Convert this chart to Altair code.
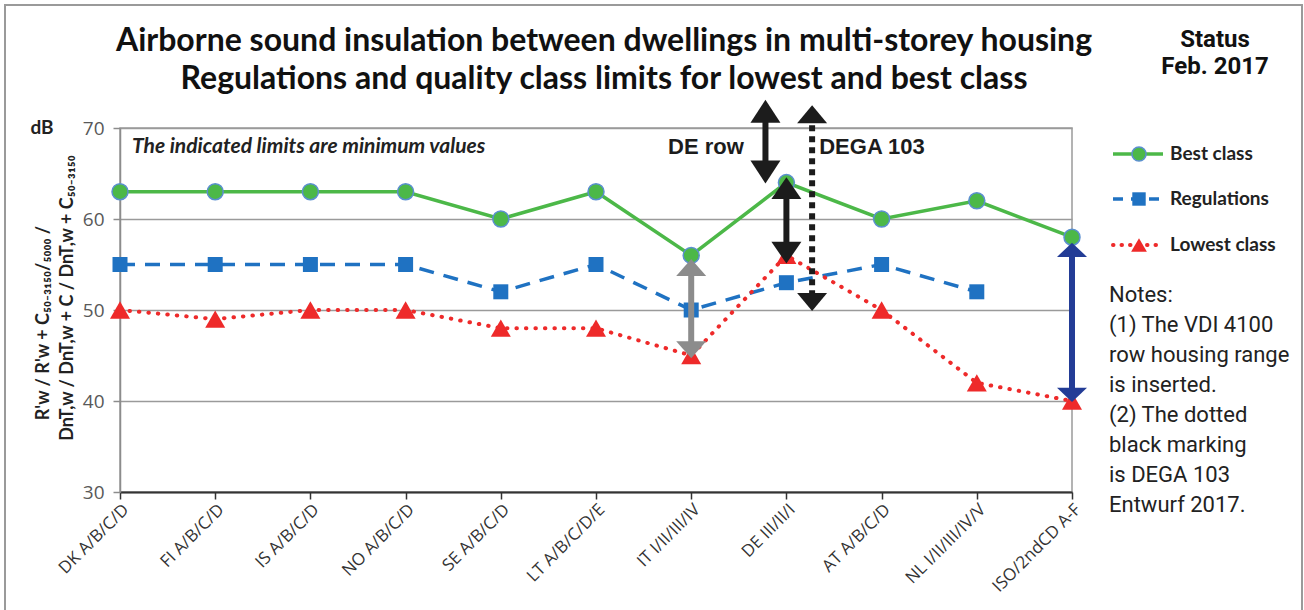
import json
import altair as alt
import pandas as pd

# ---------------- data ----------------
categories = ["DK  A/B/C/D", "FI  A/B/C/D", "IS  A/B/C/D", "NO  A/B/C/D", "SE  A/B/C/D",
              "LT  A/B/C/D/E", "IT  I/II/III/IV", "DE  III/II/I", "AT  A/B/C/D",
              "NL  I/II/III/IV/V", "ISO/2ndCD A-F"]
best_class = [63, 63, 63, 63, 60, 63, 56, 64, 60, 62, 58]
regulations = [55, 55, 55, 55, 52, 55, 50, 53, 55, 52, None]
lowest_class = [50, 49, 50, 50, 48, 48, 45, 56, 50, 42, 40]
y_ticks = [30, 40, 50, 60, 70]

# range arrows (category position, top tip value, bottom tip value)
arrow_pos = [6, 6.78, 7, 10]
arrow_top = [55.6, 73.1, 64.6, 57.4]
arrow_bottom = [44.7, 63.9, 55.1, 39.9]
arrow_color = ["#8c8c8c", "#1c1c1c", "#1c1c1c", "#233c96"]
arrow_head = [1.13, 1.53, 1.45, 0.95]
dotted_pos = [7.27]
dotted_top = [72.5]
dotted_bottom = [49.9]

title_lines = ["Airborne sound insulation between dwellings in multi-storey housing",
               "Regulations and quality class limits for lowest and best class"]
status_lines = ["Status", "Feb. 2017"]
notes_lines = ["Notes:", "(1) The VDI 4100", "row housing range", "is inserted.",
               "(2) The dotted", "black marking", "is DEGA 103", "Entwurf 2017."]
y_title_lines = ["R'w / R'w + C₅₀₋₃₁₅₀/₅₀₀₀ /", "DnT,w / DnT,w + C / DnT,w + C₅₀₋₃₁₅₀"]

# ---------------- layout ----------------
W, H = 952, 364
PL, PT = 120, 128


def px(x):
    return x - PL


def py(y):
    return y - PT


label_expr = json.dumps(categories) + "[datum.value]"

X = alt.X("i:Q", scale=alt.Scale(domain=[0, 10], nice=False, zero=False),
          axis=alt.Axis(values=list(range(11)), labelExpr=label_expr, labelAngle=315,
                        labelAlign="right", labelBaseline="top", labelFontSize=17,
                        labelFont="Open Sans", labelColor="#333333", labelPadding=2,
                        labelOverlap=False, labelBound=False, labelFlush=False,
                        tickSize=7, tickColor="#333333", tickWidth=1.5,
                        domainColor="#333333", domainWidth=2, grid=False, title=None))
Y = alt.Y("v:Q", scale=alt.Scale(domain=[30, 70], nice=False, zero=False),
          axis=alt.Axis(values=y_ticks, labelFontSize=19, labelFont="Open Sans",
                        labelColor="#595959", labelPadding=9, tickSize=7,
                        tickColor="#8c8c8c", tickWidth=1.5, domainColor="#8c8c8c",
                        domainWidth=1.5, grid=True, gridColor="#9a9a9a", gridWidth=1.5,
                        title=None))


def series_df(vals):
    return pd.DataFrame([{"i": k, "v": v} for k, v in enumerate(vals) if v is not None])


layers = []

# series
green, blue, red = "#4cb848", "#1f72c2", "#ee2a2a"
g = alt.Chart(series_df(best_class))
layers.append(g.mark_line(color=green, strokeWidth=3.5).encode(x=X, y=Y))
b = alt.Chart(series_df(regulations))
layers.append(b.mark_line(color=blue, strokeWidth=3.5, strokeDash=[15, 10]).encode(x=X, y=Y))
r = alt.Chart(series_df(lowest_class))
layers.append(r.mark_line(color=red, strokeWidth=4, strokeDash=[0.5, 9], strokeCap="round").encode(x=X, y=Y))
layers.append(g.mark_point(shape="circle", filled=True, fill=green, stroke="#5b8fd0",
                           strokeWidth=1.5, size=256, opacity=1).encode(x=X, y=Y))
layers.append(b.mark_point(shape="square", filled=True, fill=blue, size=225, opacity=1).encode(x=X, y=Y))
layers.append(r.mark_point(shape="triangle-up", filled=True, fill=red, size=400, opacity=1).encode(x=X, y=Y))

# arrows
arr = pd.DataFrame({"i": arrow_pos, "v": arrow_top, "v2": arrow_bottom, "c": arrow_color})
ac = alt.Chart(arr)
layers.append(ac.mark_rule(strokeWidth=6, yOffset=9, y2Offset=-9).encode(
    x=X, y=Y, y2="v2:Q", color=alt.Color("c:N", scale=None)))
up_heads = pd.DataFrame({"i": arrow_pos, "v": arrow_top, "c": arrow_color,
                         "s": [f"M0,0L1,{h}L-1,{h}Z" for h in arrow_head]})
down_heads = pd.DataFrame({"i": arrow_pos, "v": arrow_bottom, "c": arrow_color,
                           "s": [f"M0,0L1,-{h}L-1,-{h}Z" for h in arrow_head]})
for hd in (up_heads, down_heads):
    layers.append(alt.Chart(hd).mark_point(filled=True, opacity=1).encode(
        x=X, y=Y, color=alt.Color("c:N", scale=None), shape=alt.Shape("s:N", scale=None),
        size=alt.value(900)))

dot = pd.DataFrame({"i": dotted_pos, "v": dotted_top, "v2": dotted_bottom})
layers.append(alt.Chart(dot).mark_rule(strokeWidth=6, color="#1c1c1c", strokeDash=[6, 5],
                                       yOffset=9, y2Offset=-9).encode(x=X, y=Y, y2="v2:Q"))
layers.append(alt.Chart(pd.DataFrame({"i": dotted_pos, "v": dotted_top})).mark_point(
    filled=True, opacity=1, color="#1c1c1c", shape="M0,0L1,1.2L-1,1.2Z", size=900).encode(x=X, y=Y))
layers.append(alt.Chart(pd.DataFrame({"i": dotted_pos, "v": dotted_bottom})).mark_point(
    filled=True, opacity=1, color="#1c1c1c", shape="M0,0L1,-1.2L-1,-1.2Z", size=900).encode(x=X, y=Y))

# ---------------- annotations ----------------
one = alt.Data(values=[{"a": 1}])


def txt(t, x, y, **kw):
    return alt.Chart(one).mark_text(text=t, **kw).encode(x=alt.value(px(x)), y=alt.value(py(y)))


def hline(x1, x2, y, **kw):
    return alt.Chart(one).mark_rule(**kw).encode(x=alt.value(px(x1)), x2=alt.value(px(x2)), y=alt.value(py(y)))


def pt(x, y, **kw):
    return alt.Chart(one).mark_point(filled=True, opacity=1, **kw).encode(x=alt.value(px(x)), y=alt.value(py(y)))


# frame
layers.append(alt.Chart(one).mark_rect(fillOpacity=0, stroke="#9a9a9a", strokeWidth=2).encode(
    x=alt.value(px(5)), x2=alt.value(px(1302)), y=alt.value(py(5)), y2=alt.value(py(640))))

# titles
layers.append(txt(title_lines[0], 604, 41, font="Lato", fontWeight="bold", fontSize=32, color="#111111"))
layers.append(txt(title_lines[1], 604, 79, font="Lato", fontWeight="bold", fontSize=32, color="#111111"))
layers.append(txt(status_lines[0], 1215, 40, font="Liberation Sans Narrow, Roboto, Liberation Sans",
                  fontWeight="bold", fontSize=24, color="#111111"))
layers.append(txt(status_lines[1], 1215, 67, font="Liberation Sans Narrow, Roboto, Liberation Sans",
                  fontWeight="bold", fontSize=24, color="#111111"))
layers.append(txt("dB", 42, 128, font="Lato", fontWeight="bold", fontSize=19, color="#222222"))
layers.append(txt("The indicated limits are minimum values", 132, 147, align="left", font="Lato",
                  fontWeight="bold", fontStyle="italic", fontSize=21, color="#222222"))
layers.append(txt("DE row", 706, 147, font="Liberation Sans", fontWeight="bold", fontSize=22, color="#1c1c1c"))
layers.append(txt("DEGA 103", 872, 147, font="Liberation Sans", fontWeight="bold", fontSize=22, color="#1c1c1c"))

# y-axis title
layers.append(txt(y_title_lines[0], 44, 323, angle=270, font="Lato", fontWeight="bold", fontSize=18, color="#222222"))
layers.append(txt(y_title_lines[1], 68, 298, angle=270, font="Lato", fontWeight="bold", fontSize=18, color="#222222"))

# legend
leg_y = [154, 199, 245]
layers.append(hline(1113, 1163, leg_y[0], color=green, strokeWidth=3.5))
layers.append(pt(1139, leg_y[0], shape="circle", fill=green, stroke="#5b8fd0", strokeWidth=1.5, size=200))
layers.append(hline(1113, 1163, leg_y[1], color=blue, strokeWidth=3.5, strokeDash=[10, 8]))
layers.append(pt(1139, leg_y[1], shape="square", fill=blue, size=180))
layers.append(hline(1113, 1163, leg_y[2], color=red, strokeWidth=4, strokeDash=[0.5, 8], strokeCap="round"))
layers.append(pt(1139, leg_y[2], shape="triangle-up", fill=red, size=250))
for name, yy in zip(["Best class", "Regulations", "Lowest class"], leg_y):
    layers.append(txt(name, 1170, yy, align="left", font="Lato", fontWeight="bold", fontSize=19, color="#222222"))

# notes
for k, line in enumerate(notes_lines):
    layers.append(txt(line, 1109, 295 + 30 * k, align="left",
                      font="Liberation Sans Narrow, Roboto, Liberation Sans", fontSize=22, color="#222222"))

chart = alt.layer(*layers).properties(
    width=W, height=H,
    autosize=alt.AutoSizeParams(type="none"),
    padding={"left": PL, "top": PT, "right": 1304 - PL - W, "bottom": 610 - PT - H},
    background="white",
).configure_view(stroke="#9a9a9a", strokeWidth=1.5)

chart.save("out.html", embed_options={"renderer": "svg", "actions": False})
